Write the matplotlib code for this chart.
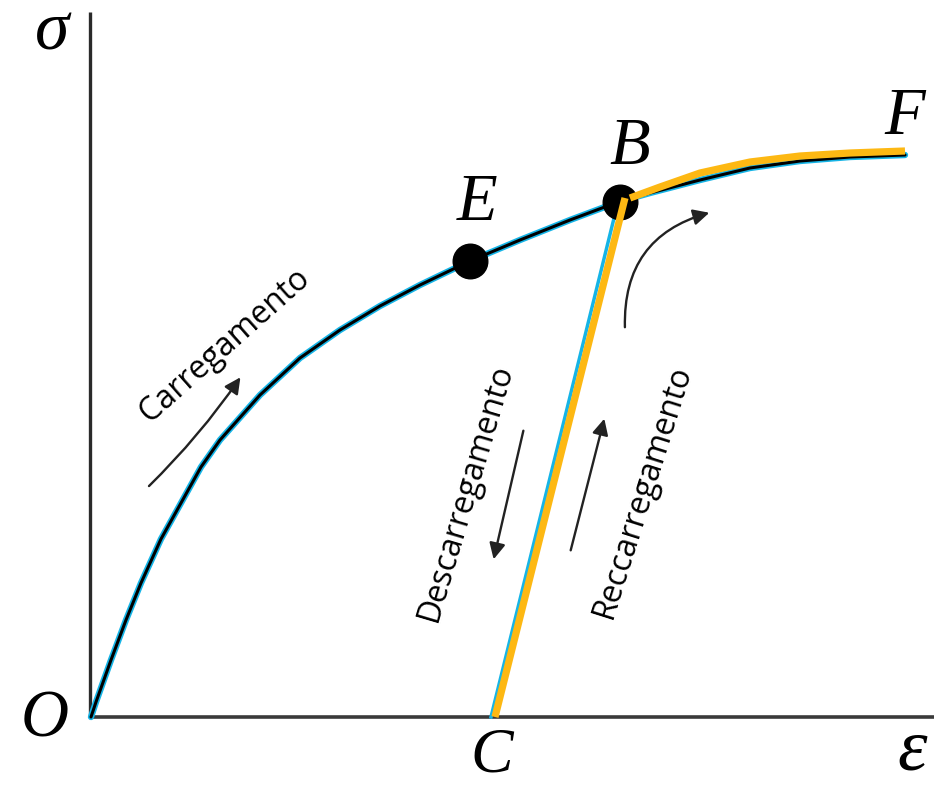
import matplotlib.pyplot as plt

# curva tensão-deformação (unidades do desenho, origem em O)
load_eps = [1, 6, 11, 21, 36, 51, 71, 91, 111, 130, 170, 210, 250, 290, 330,
            380, 430, 480, 528, 560, 610, 660, 710, 760, 815]
load_sig = [0, 15, 29, 57, 97, 134, 178, 214, 250, 277, 322, 359, 387, 411, 432,
            456, 477, 497, 515, 524, 537, 549, 556, 560, 562]

# descarregamento / recarregamento C -> B
unload_eps = [401, 528]
unload_sig = [0, 515]
reload_eps = [405, 535]
reload_sig = [0, 519]

# caminho após recarregamento B -> F
after_eps = [540, 570, 610, 660, 710, 760, 815]
after_sig = [519, 530, 544, 555, 561, 564, 566]

pts_eps = [380, 530]
pts_sig = [456, 515]

letters = ['O', 'E', 'B', 'F']
letters_eps = [-45, 387, 540, 815]
letters_sig = [-3, 514, 569, 599]

BLUE = '#16b4e6'
YELLOW = '#fdb813'

fig = plt.figure(figsize=(9.34, 7.85), dpi=100)
ax = fig.add_axes([0, 0, 1, 1])
ax.set_xlim(-90, 844)
ax.set_ylim(-68, 717)
ax.axis('off')

# eixos
ax.plot([0, 0], [0, 705], color='#2a2a2a', lw=2.4, solid_capstyle='butt')
ax.plot([0, 844], [0, 0], color='#3a3a3a', lw=2.6, solid_capstyle='butt')

ax.plot(load_eps, load_sig, color=BLUE, lw=4.6, solid_capstyle='round', zorder=2)
ax.plot(load_eps, load_sig, color='black', lw=2.2, solid_capstyle='round', zorder=3)
ax.plot(unload_eps, unload_sig, color=BLUE, lw=2.5, zorder=2)
ax.plot(reload_eps, reload_sig, color=YELLOW, lw=5.2, solid_capstyle='butt', zorder=4)
ax.plot(after_eps, after_sig, color=YELLOW, lw=5.2, solid_capstyle='butt', zorder=4)
ax.scatter(pts_eps, pts_sig, s=620, color='black', zorder=3)

serif = dict(family='Liberation Serif', style='italic', color='black')
for lab, x, y in zip(letters, letters_eps, letters_sig):
    ax.text(x, y, lab, fontsize=48, ha='center', va='center', **serif)
ax.text(402, -55, 'C', fontsize=46, ha='center', va='baseline', **serif)
ax.text(-38, 667, 'σ', fontsize=50, ha='center', va='baseline', **serif)
ax.text(822, -53, 'ε', fontsize=54, ha='center', va='baseline', **serif)

hand = dict(family='Open Sans', fontsize=23, color='black',
            ha='center', va='center', rotation_mode='anchor')
ax.text(135, 372, 'Carregamento', rotation=41.5, **hand)
ax.text(376, 225, 'Descarregamento', rotation=73.5, **hand)
ax.text(553, 226, 'Reccarregamento', rotation=72.5, **hand)

arr = dict(arrowstyle='-|>', color='#222222', lw=1.7, mutation_scale=24)
ax.annotate('', xy=(152, 342), xytext=(57, 229),
            arrowprops=dict(connectionstyle='arc3,rad=0.05', **arr))
ax.annotate('', xy=(403, 155), xytext=(434, 289),
            arrowprops=dict(connectionstyle='arc3,rad=0', **arr))
ax.annotate('', xy=(515, 301), xytext=(480, 164),
            arrowprops=dict(connectionstyle='arc3,rad=0', **arr))
ax.annotate('', xy=(622, 505), xytext=(535, 387),
            arrowprops=dict(connectionstyle='arc3,rad=-0.4', **arr))

fig.savefig('out.png', dpi=100, facecolor='white')
